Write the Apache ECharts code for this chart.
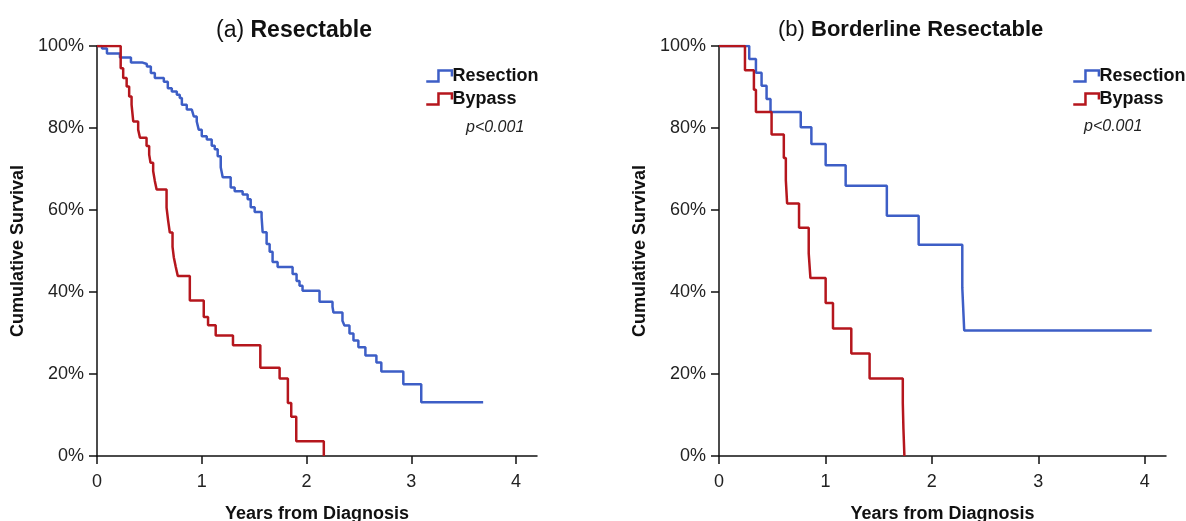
<!DOCTYPE html>
<html>
<head>
<meta charset="utf-8">
<script src="https://cdn.jsdelivr.net/npm/echarts@6/dist/echarts.min.js"></script>
<style>
  html, body { margin: 0; padding: 0; background: #fff; }
  #main { width: 1186px; height: 521px; }
</style>
</head>
<body>
<div id="main"></div>
<script>
// Kaplan-Meier steps: [years, survival %]
var resectableResection = [
  [0, 100], [0.048, 99.4], [0.095, 98.2], [0.219, 97.2], [0.324, 96.0], [0.429, 95.6],
  [0.476, 95.0], [0.514, 93.4], [0.552, 92.2], [0.638, 91.3], [0.676, 89.7], [0.714, 88.9],
  [0.762, 88.1], [0.790, 87.3], [0.810, 85.7], [0.857, 84.5], [0.905, 84.1], [0.924, 82.8],
  [0.952, 81.6], [0.971, 79.6], [1.000, 78.0], [1.048, 77.2], [1.095, 75.7], [1.124, 74.8],
  [1.152, 73.1], [1.181, 70.4], [1.200, 68.0], [1.276, 65.5], [1.314, 64.6], [1.390, 63.8],
  [1.438, 62.6], [1.467, 60.7], [1.505, 59.5], [1.571, 58.3], [1.581, 54.6], [1.619, 51.7],
  [1.648, 49.8], [1.676, 47.3], [1.724, 46.1], [1.867, 44.4], [1.905, 42.7], [1.933, 41.5],
  [1.962, 40.3], [2.124, 37.6], [2.248, 36.4], [2.257, 35.0], [2.343, 33.0], [2.362, 31.8],
  [2.410, 29.9], [2.448, 28.2], [2.495, 26.5], [2.562, 24.5], [2.667, 22.8], [2.714, 20.6],
  [2.924, 17.5], [3.095, 13.1], [3.686, 13.1]
]
var resectableBypass = [
  [0, 100], [0.226, 94.6], [0.250, 92.2], [0.283, 90.1], [0.307, 87.7], [0.330, 85.7],
  [0.346, 81.6], [0.393, 79.6], [0.410, 77.6], [0.473, 75.6], [0.498, 73.5], [0.511, 71.5],
  [0.536, 69.5], [0.552, 67.1], [0.569, 65.0], [0.664, 60.6], [0.679, 57.4], [0.695, 54.5],
  [0.721, 51.0], [0.733, 48.5], [0.752, 46.1], [0.771, 43.9], [0.886, 37.9], [1.019, 33.9],
  [1.060, 31.9], [1.133, 29.4], [1.298, 27.0], [1.559, 21.5], [1.743, 18.9], [1.822, 12.9],
  [1.854, 9.6], [1.902, 3.6], [2.165, 0]
]
var borderlineResection = [
  [0, 100], [0.284, 96.8], [0.347, 93.5], [0.400, 90.3], [0.447, 87.1], [0.484, 83.9],
  [0.768, 80.2], [0.868, 76.1], [1.002, 70.9], [1.190, 65.9], [1.577, 58.6], [1.876, 51.5],
  [2.286, 41.0], [2.304, 30.6], [4.066, 30.6]
]
var borderlineBypass = [
  [0, 100], [0.244, 94.1], [0.328, 89.3], [0.347, 83.9], [0.494, 78.4], [0.609, 72.7],
  [0.628, 67.3], [0.640, 61.6], [0.752, 55.7], [0.843, 49.4], [0.859, 43.4], [1.002, 37.3],
  [1.071, 31.1], [1.243, 25.0], [1.415, 18.9], [1.727, 12.9], [1.733, 6.6], [1.742, 0]
]
var xTicks = [0, 1, 2, 3, 4]
var panelTitles = [['(a) ', 'Resectable'], ['(b) ', 'Borderline Resectable']]
var groupNames = ['Resection', 'Bypass']
var pValueText = 'p<0.001'

var blue = '#3d5ec6'
var red = '#b5161d'
var font = "'Liberation Sans', Arial, sans-serif"
var stepIcon = 'path://M0,10 L10,10 L10,1 L21,1 L21,6'

var chart = echarts.init(document.getElementById('main'))

function makeX(index) {
  return {
    type: 'value',
    gridIndex: index,
    min: 0,
    max: 4.2,
    name: 'Years from Diagnosis',
    nameLocation: 'middle',
    nameGap: 49,
    nameTextStyle: { fontFamily: font, fontSize: 18, fontWeight: 'bold', color: '#111' },
    axisLine: { lineStyle: { color: '#111', width: 1.5 } },
    axisTick: { inside: false, length: 8, lineStyle: { color: '#111', width: 1.5 }, customValues: xTicks },
    axisLabel: { fontFamily: font, fontSize: 18, color: '#222', margin: 17, customValues: xTicks },
    splitLine: { show: false }
  }
}

function makeY(index) {
  return {
    type: 'value',
    gridIndex: index,
    min: 0,
    max: 100,
    interval: 20,
    name: 'Cumulative Survival',
    nameLocation: 'middle',
    nameGap: 70,
    nameTextStyle: { fontFamily: font, fontSize: 18, fontWeight: 'bold', color: '#111' },
    axisLine: { show: true, lineStyle: { color: '#111', width: 1.5 } },
    axisTick: { show: true, inside: false, length: 8, lineStyle: { color: '#111', width: 1.5 } },
    axisLabel: { fontFamily: font, fontSize: 18, color: '#222', margin: 13, formatter: '{value}%' },
    splitLine: { show: false }
  }
}

function makeLine(name, data, color, index) {
  return {
    name: name,
    type: 'line',
    step: 'end',
    xAxisIndex: index,
    yAxisIndex: index,
    showSymbol: false,
    color: color,
    lineStyle: { color: color, width: 2.5 },
    data: data
  }
}

function makeLegend(left) {
  return {
    left: left,
    top: 62,
    orient: 'vertical',
    itemGap: 5,
    itemWidth: 27,
    itemHeight: 11,
    textStyle: { fontFamily: font, fontSize: 18, fontWeight: 'bold', color: '#111', padding: [0, 0, 0, -5] },
    data: [
      { name: groupNames[0], icon: stepIcon, itemStyle: { color: 'rgba(0,0,0,0)', borderColor: blue, borderWidth: 2.5 } },
      { name: groupNames[1], icon: stepIcon, itemStyle: { color: 'rgba(0,0,0,0)', borderColor: red, borderWidth: 2.5 } }
    ]
  }
}

function makeTitle(i, left, size) {
  return {
    left: left,
    top: 14,
    text: panelTitles[i][0] + '{b|' + panelTitles[i][1] + '}',
    textStyle: {
      fontFamily: font, fontSize: size, fontWeight: 'normal', color: '#111',
      rich: { b: { fontFamily: font, fontSize: size, fontWeight: 'bold', color: '#111' } }
    }
  }
}

chart.setOption({
  backgroundColor: '#fff',
  animation: false,
  title: [makeTitle(0, 211, 23), makeTitle(1, 773, 22)],
  legend: [makeLegend(420), makeLegend(1067)],
  grid: [
    { left: 97, right: 649, top: 46, bottom: 65, containLabel: false, outerBoundsMode: 'none' },
    { left: 719, right: 20, top: 46, bottom: 65, containLabel: false, outerBoundsMode: 'none' }
  ],
  xAxis: [makeX(0), makeX(1)],
  yAxis: [makeY(0), makeY(1)],
  graphic: [
    { type: 'text', left: 466, top: 120, style: { text: pValueText, fontFamily: font, fontSize: 16, fontStyle: 'italic', fill: '#222' } },
    { type: 'text', left: 1084, top: 119, style: { text: pValueText, fontFamily: font, fontSize: 16, fontStyle: 'italic', fill: '#222' } }
  ],
  series: [
    makeLine(groupNames[0], resectableResection, blue, 0),
    makeLine(groupNames[1], resectableBypass, red, 0),
    makeLine(groupNames[0], borderlineResection, blue, 1),
    makeLine(groupNames[1], borderlineBypass, red, 1)
  ]
})
</script>
</body>
</html>
